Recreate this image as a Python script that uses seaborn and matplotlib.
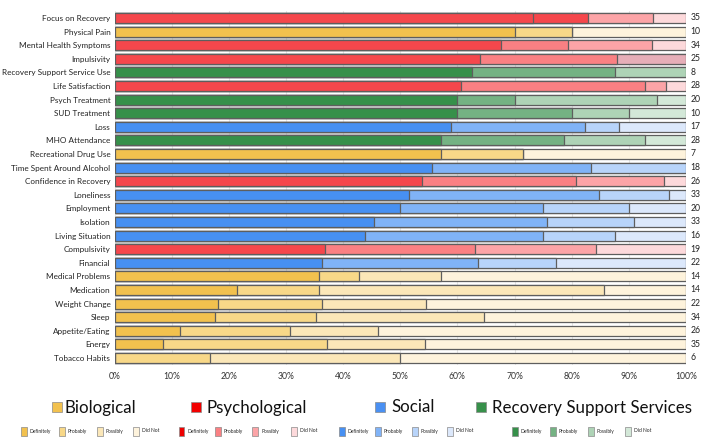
import matplotlib
matplotlib.use("Agg")
import matplotlib.pyplot as plt
import seaborn as sns
import pandas as pd
import numpy as np
from matplotlib.patches import Rectangle

# ---------------- data ----------------
categories = ["Focus on Recovery", "Physical Pain", "Mental Health Symptoms", "Impulsivity",
              "Recovery Support Service Use", "Life Satisfaction", "Psych Treatment", "SUD Treatment",
              "Loss", "MHO Attendance", "Recreational Drug Use", "Time Spent Around Alcohol",
              "Confidence in Recovery", "Loneliness", "Employment", "Isolation", "Living Situation",
              "Compulsivity", "Financial", "Medical Problems", "Medication", "Weight Change",
              "Sleep", "Appetite/Eating", "Energy", "Tobacco Habits"]
domains = ["Psychological", "Biological", "Psychological", "Psychological",
           "Recovery Support Services", "Psychological", "Recovery Support Services", "Recovery Support Services",
           "Social", "Recovery Support Services", "Biological", "Social",
           "Psychological", "Social", "Social", "Social", "Social",
           "Psychological", "Social", "Biological", "Biological", "Biological",
           "Biological", "Biological", "Biological", "Biological"]
n_resp = [35, 10, 34, 25, 8, 28, 20, 10, 17, 28, 7, 18, 26, 33, 20, 33, 16, 19, 22, 14, 14, 22, 34, 26, 35, 6]
definitely = [25.65, 7, 23, 16, 5, 17, 12, 6, 10, 16, 4, 10, 14, 17, 10, 15, 7, 7, 8, 5, 3, 4, 6, 3, 3, 0]
probably = [3.35, 1, 4, 6, 2, 9, 2, 2, 4, 6, 1, 5, 7, 11, 5, 10, 5, 5, 6, 1, 2, 4, 6, 5, 10, 1]
possibly = [4, 0, 5, 3, 1, 1, 5, 1, 1, 4, 0, 3, 4, 4, 3, 5, 2, 4, 3, 2, 7, 4, 10, 4, 6, 2]
did_not = [2, 2, 2, 0, 0, 1, 1, 1, 2, 2, 2, 0, 1, 1, 2, 3, 2, 3, 5, 6, 2, 10, 12, 14, 16, 3]
levels = ["Definitely", "Probably", "Possibly", "Did Not"]
domain_order = ["Biological", "Psychological", "Social", "Recovery Support Services"]

# ---------------- styles ----------------
shade_colors = {
    "Biological": ["#F2C14E", "#F8D888", "#FBE7B8", "#FEF3DC"],
    "Psychological": ["#F5474C", "#FA8083", "#FCA4A7", "#FDD9DB"],
    "Social": ["#4790F2", "#80B3F7", "#B8D4FA", "#DCE8FB"],
    "Recovery Support Services": ["#36904A", "#74B283", "#AED3B6", "#D3E8D8"],
}
legend_big_colors = {"Biological": "#F2C14E", "Psychological": "#F20000",
                     "Social": "#4A90F2", "Recovery Support Services": "#37904A"}
legend_small_colors = {
    "Biological": ["#F2C14E", "#F8D888", "#FBE7B8", "#FEF3DC"],
    "Psychological": ["#EE0000", "#FA8083", "#FCA4A7", "#FDD9DB"],
    "Social": ["#4790F2", "#80B3F7", "#B8D4FA", "#DCE8FB"],
    "Recovery Support Services": ["#36904A", "#74B283", "#AED3B6", "#D3E8D8"],
}
color_overrides = {("Focus on Recovery", 1): "#F5474C", ("Impulsivity", 2): "#E6AEB8"}

FONT = ["Lato", "DejaVu Sans"]

df = pd.DataFrame({"category": categories, "domain": domains, "n": n_resp,
                   "Definitely": definitely, "Probably": probably,
                   "Possibly": possibly, "Did Not": did_not})
tot = df[levels].sum(axis=1)
cum = df[levels].cumsum(axis=1).div(tot, axis=0) * 100

W, H = 708, 443
fig = plt.figure(figsize=(W / 100, H / 100), dpi=100)
sns.set_style("white")
plt.rcParams["font.family"] = FONT
ax = fig.add_axes([114.5 / W, 1 - 364.8 / H, (686 - 114.5) / W, (364.8 - 11.2) / H])

for k in range(3, -1, -1):
    pal = {}
    for cat, dom in zip(categories, domains):
        pal[cat] = color_overrides.get((cat, k), shade_colors[dom][k])
    d = pd.DataFrame({"category": categories, "val": cum[levels[k]].values})
    sns.barplot(data=d, x="val", y="category", hue="category", palette=pal, order=categories,
                hue_order=categories, dodge=False, legend=False, width=0.73, saturation=1,
                edgecolor="#5E5E5E", linewidth=0.9, ax=ax, zorder=3)

ax.set_xlim(0, 100)
ax.set_ylim(len(categories) - 0.5, -0.5)
ax.set_xticks(np.arange(0, 101, 10))
ax.set_xticklabels([f"{v}%" for v in range(0, 101, 10)], fontsize=6.2, color="#333333")
ax.tick_params(axis="y", labelsize=5.9, labelcolor="#222222", length=0, pad=3)
ax.tick_params(axis="x", length=0, pad=5)
ax.set_xlabel("")
ax.set_ylabel("")
ax.grid(axis="x", color="#E6E6E6", linewidth=0.8, zorder=0)
ax.set_axisbelow(True)
for s in ax.spines.values():
    s.set_visible(False)

for i, n in enumerate(n_resp):
    ax.text(100.8, i, str(n), va="center", ha="left", fontsize=6.2, color="#222222")

# ---------------- legend ----------------
def fx(px):
    return px / W

def fy(py):
    return 1 - py / H

big_sq = [51.5, 191, 375, 476]
big_txt = [65, 207, 391.5, 492.5]
for dom, sx, tx in zip(domain_order, big_sq, big_txt):
    fig.add_artist(Rectangle((fx(sx), fy(412)), 10 / W, 10 / H, transform=fig.transFigure,
                             facecolor=legend_big_colors[dom], edgecolor="#8A8A8A", linewidth=0.5))
    fig.text(fx(tx), fy(407.5), dom, fontsize=12.2, va="center", ha="left", color="#111111")

small_sq = {
    "Biological": [20.7, 58.7, 96.7, 133.3],
    "Psychological": [178.5, 215, 252.5, 291],
    "Social": [338.6, 375, 411.7, 447.3],
    "Recovery Support Services": [512, 550, 588, 625],
}
for dom in domain_order:
    for k, sx in enumerate(small_sq[dom]):
        fig.add_artist(Rectangle((fx(sx), fy(435.5)), 6 / W, 9 / H, transform=fig.transFigure,
                                 facecolor=legend_small_colors[dom][k], edgecolor="#8A8A8A",
                                 linewidth=0.5))
        fig.text(fx(sx + 8.5), fy(431), levels[k], fontsize=3.5, va="center", ha="left",
                 color="#222222")

fig.savefig("out.png", dpi=100)
